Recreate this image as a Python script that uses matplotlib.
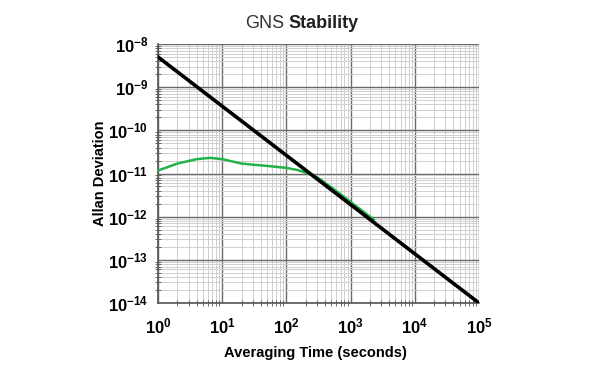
import matplotlib.pyplot as plt
from matplotlib.ticker import LogLocator, NullFormatter

plt.rcParams['font.family'] = ['Liberation Sans', 'DejaVu Sans']

# reference line (black)
ref_tau = [1, 1e5]
ref_adev = [5e-9, 1e-14]

# measured stability (green)
gns_tau = [1, 2, 4, 6.5, 10, 20, 30, 50, 100, 150, 200, 300, 500, 1000, 2000, 2300]
gns_adev = [1.17e-11, 1.7e-11, 2.15e-11, 2.3e-11, 2.15e-11, 1.7e-11, 1.6e-11, 1.5e-11,
            1.35e-11, 1.2e-11, 1.05e-11, 8.2e-12, 4.8e-12, 2.2e-12, 1.0e-12, 8.5e-13]

fig = plt.figure(figsize=(5.95, 3.67), dpi=100)
ax = fig.add_axes([158 / 595, 1 - 303 / 367, 321 / 595, 259 / 367])

ax.set_xscale('log')
ax.set_yscale('log')
ax.set_xlim(1, 1e5)
ax.set_ylim(1e-14, 1e-8)

ax.plot(gns_tau, gns_adev, color='#22b24c', lw=1.8, zorder=3)
ax.plot(ref_tau, ref_adev, color='black', lw=2.6, zorder=4)

ax.xaxis.set_major_locator(LogLocator(base=10, numticks=10))
ax.yaxis.set_major_locator(LogLocator(base=10, numticks=10))
ax.xaxis.set_minor_locator(LogLocator(base=10, subs=range(2, 10), numticks=20))
ax.yaxis.set_minor_locator(LogLocator(base=10, subs=range(2, 10), numticks=20))
ax.xaxis.set_minor_formatter(NullFormatter())
ax.yaxis.set_minor_formatter(NullFormatter())

ax.grid(which='major', color='#6a6a6a', lw=1.0)
ax.grid(which='minor', color='#cfcfcf', lw=0.7)
ax.set_axisbelow(True)

for s in ['top', 'right']:
    ax.spines[s].set_visible(False)
for s in ['left', 'bottom']:
    ax.spines[s].set_color('#555555')
    ax.spines[s].set_linewidth(1.2)

ax.tick_params(which='major', length=0, labelsize=12, pad=7)
ax.tick_params(axis='x', which='major', pad=10)
ax.tick_params(which='minor', direction='inout', length=5, color='#555555')
for lab in ax.get_xticklabels() + ax.get_yticklabels():
    lab.set_fontweight('bold')

ax.set_xlabel('Averaging Time (seconds)', fontsize=10.5, fontweight='bold')
ax.set_ylabel('Allan Deviation', fontsize=10.5, fontweight='bold')
ax.xaxis.set_label_coords(0.49, -0.165)
ax.yaxis.set_label_coords(-0.16, 0.5)

fig.text(0.412, 0.935, 'GNS', ha='left', va='center', fontsize=13, color='#333333')
fig.text(0.412 + 0.073, 0.935, 'Stability', ha='left', va='center', fontsize=13,
         fontweight='bold', color='#222222')

fig.savefig('out.png', dpi=100)
